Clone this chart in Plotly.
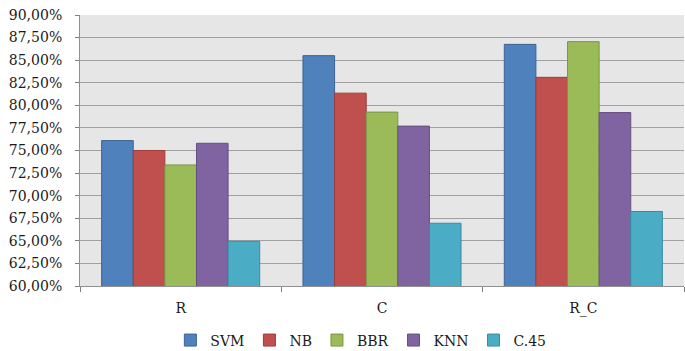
import plotly.graph_objects as go

categories = ["R", "C", "R_C"]
svm = [76.1, 85.5, 86.75]
nb = [75.0, 81.35, 83.1]
bbr = [73.4, 79.25, 87.05]
knn = [75.8, 77.7, 79.2]
c45 = [64.95, 66.95, 68.25]

series_names = ["SVM", "NB", "BBR", "KNN", "C.45"]
series_values = [svm, nb, bbr, knn, c45]
fill_colors = ["#4F81BD", "#C0504D", "#9BBB59", "#8064A2", "#4BACC6"]
line_colors = ["#3B6496", "#9B3D3A", "#7A9646", "#654F82", "#3A8AA0"]

y_ticks = [60 + 2.5 * i for i in range(13)]
y_tick_labels = [f"{v:.2f}".replace(".", ",") + "%" for v in y_ticks]

fig = go.Figure()
for name, vals, fc, lc in zip(series_names, series_values, fill_colors, line_colors):
    fig.add_trace(go.Bar(
        x=categories, y=vals, name=name,
        marker=dict(color=fc, line=dict(color=lc, width=1)),
    ))

font_family = "DejaVu Serif"
text_color = "#1A1A1A"

fig.update_layout(
    width=685, height=351,
    margin=dict(l=80, r=1, t=15, b=65, autoexpand=False),
    paper_bgcolor="white",
    plot_bgcolor="#E6E6E6",
    barmode="group",
    bargap=0.215,
    bargroupgap=0,
    font=dict(family=font_family, size=14, color=text_color),
    showlegend=True,
    legend=dict(
        orientation="h", x=0.465, xanchor="center",
        yref="container", y=0.03, yanchor="middle",
        font=dict(family=font_family, size=14, color=text_color),
        itemwidth=30, traceorder="normal",
        bgcolor="rgba(0,0,0,0)",
    ),
)

fig.update_xaxes(
    type="category",
    automargin=False,
    showgrid=False,
    showline=True, linecolor="#909090", linewidth=1,
    ticks="outside", ticklen=5, tickcolor="#808080",
    tickson="boundaries",
    ticklabelstandoff=9,
    tickfont=dict(family=font_family, size=14, color=text_color),
)
fig.update_yaxes(
    range=[60, 90],
    automargin=False,
    tickvals=y_ticks,
    ticktext=y_tick_labels,
    showgrid=True, gridcolor="#A0A0A0", gridwidth=1,
    showline=True, linecolor="#909090", linewidth=1,
    ticks="outside", ticklen=4, tickcolor="#808080",
    ticklabelstandoff=10,
    tickfont=dict(family=font_family, size=14, color=text_color),
    zeroline=False,
)

fig.write_html("out.html")
